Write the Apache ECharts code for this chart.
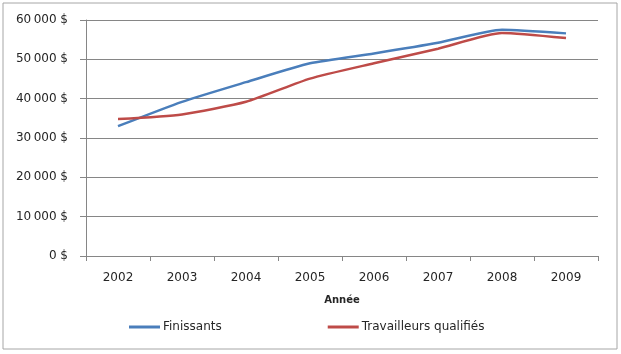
<!DOCTYPE html>
<html>
<head>
<meta charset="utf-8">
<script src="https://cdn.jsdelivr.net/npm/echarts@6/dist/echarts.min.js"></script>
<style>
  html, body { margin: 0; padding: 0; background: #fff; }
  #main { width: 621px; height: 354px; }
</style>
</head>
<body>
<div id="main"></div>
<script>
var annees = ['2002', '2003', '2004', '2005', '2006', '2007', '2008', '2009'];

var finissants = [33000, 39200, 44200, 49000, 51500, 54200, 57500, 56600];

var travailleurs = [34800, 36000, 39200, 45100, 49000, 52700, 56700, 55400];

var myChart = echarts.init(document.getElementById('main'));

// 60000 -> "60 000 $"
function dollars(v) {
    var s = String(v).replace(/\B(?=(\d{3})+(?!\d))/g, '\u2009');
    return s + ' $';
}

var option = {
    animation: false,
    textStyle: { fontFamily: 'DejaVu Sans' },
    graphic: [{
        type: 'rect',
        shape: { x: 3, y: 3, width: 614, height: 346 },
        style: { fill: 'none', stroke: '#a6a6a6', lineWidth: 1 }
    }],
    grid: {
        left: 86,
        right: 23,
        top: 20,
        bottom: 98
    },
    legend: {
        bottom: 16,
        left: 124,
        itemGap: 106,
        itemWidth: 31,
        itemHeight: 3,
        icon: 'rect',
        textStyle: { fontSize: 12, color: '#262626', fontFamily: 'DejaVu Sans', padding: [0, 0, 0, -2] },
        data: ['Finissants', 'Travailleurs qualifiés']
    },
    xAxis: {
        type: 'category',
        data: annees,
        boundaryGap: true,
        name: 'Année',
        nameLocation: 'middle',
        nameGap: 39,
        nameTextStyle: { fontSize: 10, fontWeight: 'bold', color: '#262626' },
        axisLine: { lineStyle: { color: '#868686', width: 1 } },
        axisTick: { show: true, length: 5, lineStyle: { color: '#868686' } },
        axisLabel: { fontSize: 12, color: '#262626', margin: 16 },
        splitLine: { show: false }
    },
    yAxis: {
        type: 'value',
        min: 0,
        max: 60000,
        interval: 10000,
        axisLine: { show: true, lineStyle: { color: '#868686', width: 1 } },
        axisTick: { show: true, length: 6, lineStyle: { color: '#868686' } },
        axisLabel: { fontSize: 12, color: '#262626', margin: 18, formatter: dollars },
        splitLine: { show: true, lineStyle: { color: '#868686', width: 1 } }
    },
    series: [{
        name: 'Finissants',
        type: 'line',
        data: finissants,
        smooth: 0.2,
        symbol: 'none',
        lineStyle: { width: 2.5, color: '#4a7ebb' },
        itemStyle: { color: '#4a7ebb' }
    }, {
        name: 'Travailleurs qualifiés',
        type: 'line',
        data: travailleurs,
        smooth: 0.2,
        symbol: 'none',
        lineStyle: { width: 2.5, color: '#be4b48' },
        itemStyle: { color: '#be4b48' }
    }]
};

myChart.setOption(option);
</script>
</body>
</html>
